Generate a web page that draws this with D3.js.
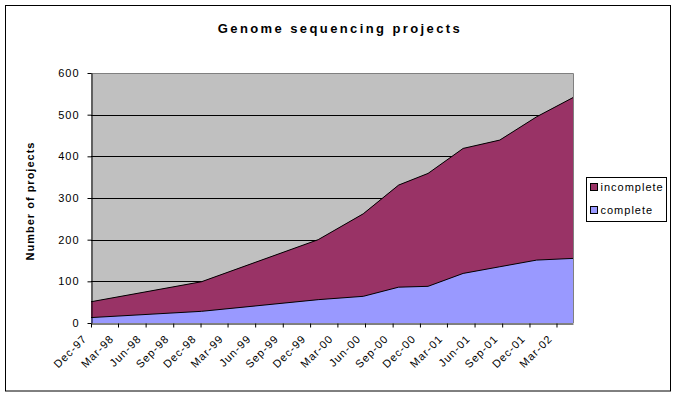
<!DOCTYPE html>
<html>
<head>
<meta charset="utf-8">
<script src="https://cdn.jsdelivr.net/npm/d3@7"></script>
<style>
body { margin: 0; background: #fff; }
svg { font-family: "Liberation Sans", Arial, sans-serif; }
</style>
</head>
<body>
<div id="chart"></div>
<script>
const width = 678;
const height = 397;
const plot = { left: 91, right: 573, top: 73, bottom: 323 };

// data (survey dates, stacked counts)
const dates = ["1997-12-01", "1998-12-04", "1999-12-28", "2000-05-26", "2000-09-21",
    "2000-12-28", "2001-04-24", "2001-08-24", "2001-12-25", "2002-04-25"];
const complete = [13, 28, 56, 64, 86, 88, 119, 135, 151, 155];
const incomplete = [38, 71, 144, 198, 245, 271, 300, 304, 344, 386];

const tickLabels = ["Dec-97", "Mar-98", "Jun-98", "Sep-98", "Dec-98", "Mar-99", "Jun-99", "Sep-99",
    "Dec-99", "Mar-00", "Jun-00", "Sep-00", "Dec-00", "Mar-01", "Jun-01", "Sep-01", "Dec-01", "Mar-02"];
const yTicks = [0, 100, 200, 300, 400, 500, 600];

const keys = ["complete", "incomplete"];
const colors = { complete: "#9999ff", incomplete: "#993366" };
const legendOrder = ["incomplete", "complete"];

const parseDate = d3.timeParse("%Y-%m-%d");
const parseTick = d3.timeParse("%b-%y");

const table = dates.map((d, i) => ({
    date: parseDate(d),
    complete: complete[i],
    incomplete: incomplete[i]
}));

const svg = d3.select("#chart")
    .append("svg")
    .attr("width", width)
    .attr("height", height);

// outer chart border
svg.append("rect")
    .attr("x", 5.5).attr("y", 5.5)
    .attr("width", 665).attr("height", 385.5)
    .attr("fill", "#fff")
    .attr("stroke", "#000");

svg.append("text")
    .attr("x", 340)
    .attr("y", 33)
    .attr("text-anchor", "middle")
    .style("font-size", "13px")
    .style("font-weight", "bold")
    .style("letter-spacing", "2.4px")
    .text("Genome sequencing projects");

const x = d3.scaleTime()
    .domain(d3.extent(table, d => d.date))
    .range([plot.left, plot.right]);

const y = d3.scaleLinear()
    .domain([0, 600])
    .range([plot.bottom, plot.top]);

// plot background
svg.append("rect")
    .attr("x", plot.left).attr("y", plot.top)
    .attr("width", plot.right - plot.left)
    .attr("height", plot.bottom - plot.top)
    .attr("fill", "#c0c0c0");

const stack = d3.stack().keys(keys);
const series = stack(table);

const area = d3.area()
    .x(d => x(d.data.date))
    .y0(d => y(d[0]))
    .y1(d => y(d[1]));

svg.append("g")
    .selectAll("path")
    .data(series)
    .join("path")
    .attr("fill", d => colors[d.key])
    .attr("d", area);

// gridlines
svg.append("g")
    .selectAll("line")
    .data(yTicks.filter(t => t > 0 && t < 600))
    .join("line")
    .attr("x1", plot.left).attr("x2", plot.right)
    .attr("y1", d => Math.round(y(d)) + 0.5)
    .attr("y2", d => Math.round(y(d)) + 0.5)
    .attr("stroke", "#000");

// re-draw areas above gridlines (Excel draws series over gridlines)
svg.append("g")
    .selectAll("path")
    .data(series)
    .join("path")
    .attr("fill", d => colors[d.key])
    .attr("d", area);

const topLine = d3.line()
    .x(d => x(d.data.date))
    .y(d => y(d[1]));

svg.append("g")
    .selectAll("path")
    .data(series)
    .join("path")
    .attr("fill", "none")
    .attr("stroke", "#000")
    .attr("stroke-width", 1)
    .attr("d", topLine);

// plot frame (grey top and right)
svg.append("path")
    .attr("d", `M${plot.left},${plot.top + 0.5}H${plot.right + 0.5}V${plot.bottom}`)
    .attr("fill", "none")
    .attr("stroke", "#808080");

const xAxis = svg.append("g")
    .attr("transform", `translate(0,${plot.bottom + 0.5})`)
    .call(d3.axisBottom(x)
        .tickValues(tickLabels.map(parseTick))
        .tickFormat(d3.timeFormat("%b-%y"))
        .tickSize(4)
        .tickSizeOuter(0));

xAxis.selectAll("text")
    .attr("y", 0)
    .attr("dy", 0)
    .attr("text-anchor", "end")
    .attr("transform", "translate(-4,16) rotate(-45)");

const yAxis = svg.append("g")
    .attr("transform", `translate(${plot.left + 0.5},0)`)
    .call(d3.axisLeft(y)
        .tickValues(yTicks)
        .tickSize(4)
        .tickSizeOuter(0)
        .tickPadding(8));

[xAxis, yAxis].forEach(g => {
    g.selectAll("text")
        .style("font-size", "11px")
        .style("letter-spacing", "1px")
        .attr("fill", "#000")
        .attr("font-family", null);
    g.selectAll("line, path").attr("stroke", "#000");
});

svg.append("text")
    .attr("transform", `translate(34,201) rotate(-90)`)
    .attr("text-anchor", "middle")
    .style("font-size", "11px")
    .style("font-weight", "bold")
    .style("letter-spacing", "1px")
    .text("Number of projects");

// legend
const legend = svg.append("g");
legend.append("rect")
    .attr("x", 586.5).attr("y", 177.5)
    .attr("width", 80).attr("height", 44)
    .attr("fill", "#fff")
    .attr("stroke", "#000");

const items = legend.selectAll("g.item")
    .data(legendOrder)
    .join("g")
    .attr("class", "item")
    .attr("transform", (d, i) => `translate(590.5,${183.5 + i * 23})`);

items.append("rect")
    .attr("width", 7).attr("height", 7)
    .attr("fill", d => colors[d])
    .attr("stroke", "#000");

items.append("text")
    .attr("x", 10)
    .attr("y", 7.5)
    .style("font-size", "11px")
    .style("letter-spacing", "1px")
    .text(d => d);
</script>
</body>
</html>
